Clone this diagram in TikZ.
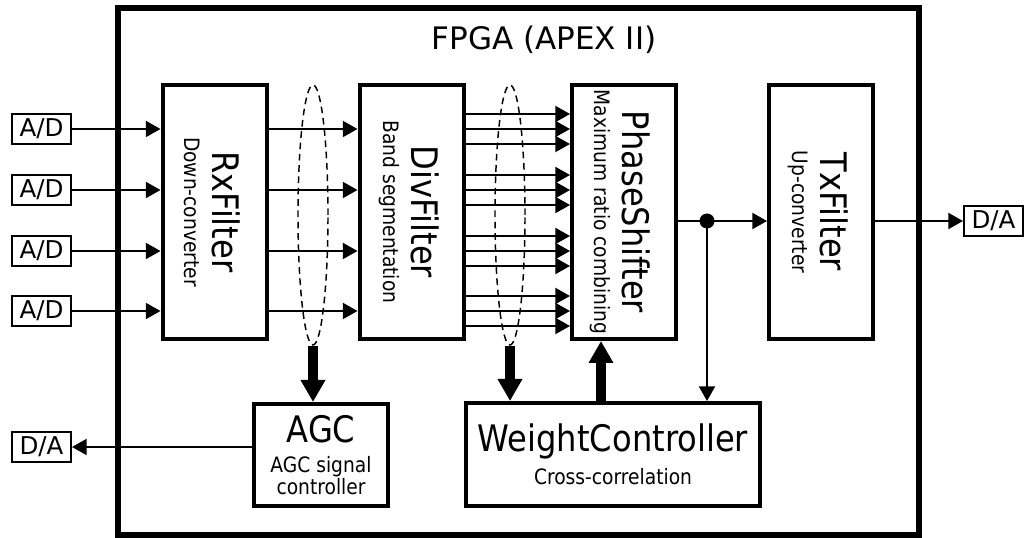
\documentclass[tikz,border=0pt]{standalone}
\usepackage{fontspec}
\setmainfont{DejaVu Sans}
\newfontfamily\blockfont{DejaVu Sans}[FakeStretch=0.88]
\usetikzlibrary{arrows.meta, positioning, shapes.geometric, calc}

\newcommand{\blocktitle}{\blockfont\fontsize{27.4}{22}\selectfont}

\begin{document}
\begin{tikzpicture}[
  x=0.75pt, y=-0.75pt,
  block/.style={draw, line width=3pt, minimum width=78pt, minimum height=190.5pt, inner sep=0pt},
  vtext/.style={rotate=-90, align=center, font=\blockfont\fontsize{15.9}{21}\selectfont},
  ctrl/.style={draw, line width=3pt, align=center, inner sep=0pt,
               font=\blockfont\fontsize{15.9}{16.5}\selectfont},
  conv/.style={draw, line width=1.5pt, minimum width=44.25pt, minimum height=22.5pt,
               inner sep=0pt, font=\fontsize{18.4}{20}\selectfont},
  bus/.style={draw, ellipse, dash pattern=on 5pt off 3.5pt, line width=1.1pt,
              minimum width=22.5pt, minimum height=195pt, inner sep=0pt},
  arr/.style={-{Triangle[length=11pt,width=12pt]}, line width=1.5pt},
  fat/.style={-{Triangle[length=16.5pt,width=17.5pt]}, line width=8pt}
]
  \useasboundingbox (0,0) rectangle (1025,538);

  % FPGA outline
  \draw[line width=4.5pt] (117.5,8.5) rectangle (918.5,535);
  \node[font=\fontsize{23.25}{26}\selectfont, anchor=base] (fpga) at (544,50) {FPGA (APEX II)};

  % signal chain
  \node[block] (rx) at (214.5,212) {};
  \node[block] (div) at (411.5,212) {};
  \node[block] (ps) at (624,212) {};
  \node[block] (tx) at (821,212) {};
  \node[vtext] (rx-t) at ([xshift=-2pt]rx.center) {{\blocktitle RxFilter}\\Down-converter};
  \node[vtext] (div-t) at ([xshift=-2pt]div.center) {{\blocktitle DivFilter}\\Band segmentation};
  \node[vtext] (ps-t) at ([xshift=-3pt]ps.center) {{\blocktitle PhaseShifter}\\Maximum ratio combining};
  \node[vtext] (tx-t) at ([xshift=-2pt]tx.center) {{\blocktitle TxFilter}\\Up-converter};

  % controllers
  \node[ctrl, minimum width=100.5pt, minimum height=76.5pt] (agc) at (321,455)
    {{\blocktitle AGC}\\[6pt]AGC signal\\controller};
  \node[ctrl, minimum width=220.5pt, minimum height=77.25pt] (wc) at (613,454.5)
    {{\blocktitle WeightController}\\[6pt]Cross-correlation};

  % bundles
  \node[bus] (bus1) at (313,215) {};
  \node[bus] (bus2) at (510,215) {};

  \foreach \i/\y in {1/129,2/190,3/251,4/311} {
    \node[conv] (ad\i) at (41.5,\y) {A/D};
    \draw[arr] (ad\i) -- (rx.west |- ad\i);
    \draw[arr] (rx.east |- ad\i) -- (div.west |- ad\i);
    \foreach \d in {-15,0,15}
      \draw[arr] ($(div.east |- ad\i)+(0,\d)$) -- ($(ps.west |- ad\i)+(0,\d)$);
  }

  \draw[fat] (bus1.south) -- (bus1.south |- agc.north);
  \draw[fat] (bus2.south) -- (bus2.south |- wc.north);
  \draw[fat] ($(wc.north)+(-12,0)$) -- ($(ps.south)+(-23,0)$);

  % output and feedback
  \coordinate (jn) at (707,221);
  \draw[line width=1.5pt] (ps.east |- jn) -- (jn);
  \fill (jn) circle (7.5);
  \draw[arr] (jn) -- (tx.west |- jn);
  \draw[arr] (jn) -- (jn |- wc.north);

  \node[conv] (da2) at (993.5,221) {D/A};
  \draw[arr] (tx.east |- da2) -- (da2);
  \node[conv] (da1) at (41.5,447) {D/A};
  \draw[arr] (agc.west |- da1) -- (da1);
\end{tikzpicture}
\end{document}
